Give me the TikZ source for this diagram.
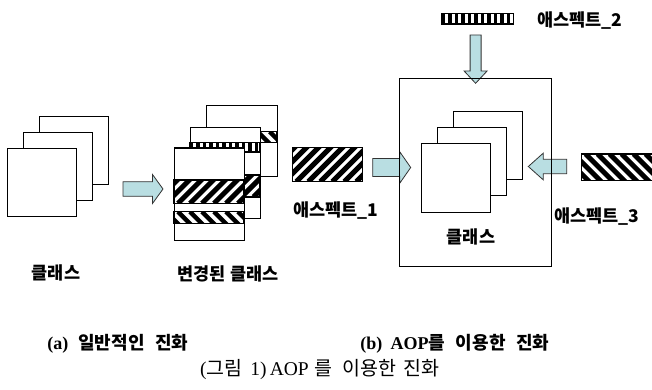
\documentclass[tikz,border=0pt]{standalone}
\usepackage{fontspec}
\setmainfont{Liberation Serif}
\newfontfamily\kr{Noto Sans CJK KR}
\usetikzlibrary{calc}

\definecolor{arrowfill}{RGB}{185,222,226}

\tikzset{
  sheet/.style={draw=black, line width=1.1pt, fill=white},
  frame/.style={draw=black, line width=1.1pt},
  band/.style={draw=black, line width=1.1pt},
  lbl/.style={font=\kr\bfseries\fontsize{17.5}{17.5}\selectfont, inner sep=0pt},
  caption/.style={font=\fontsize{18}{18}\selectfont\bfseries, inner sep=0pt},
  bigcaption/.style={font=\fontsize{19.5}{19.5}\selectfont, inner sep=0pt},
  blockarrow/.style={draw=black!80, line width=0.8pt, fill=arrowfill, line join=miter},
}

% diagonal stripes rising to the right, inside the box (x1,y1)-(x2,y2)
\newcommand\hatchrise[5]{%
  \begin{scope}
    \clip (#1,#2) rectangle (#3,#4);
    \fill[white] (#1,#2) rectangle (#3,#4);
    \foreach \k in {-80,-68,...,200}
      \draw[line width=#5] ({#1+\k},#4) -- ({#1+\k+60},{#4-60});
  \end{scope}
  \draw[band] (#1,#2) rectangle (#3,#4);}
% diagonal stripes falling to the right
\newcommand\hatchfall[5]{%
  \begin{scope}
    \clip (#1,#2) rectangle (#3,#4);
    \fill[white] (#1,#2) rectangle (#3,#4);
    \foreach \k in {-80,-68,...,200}
      \draw[line width=#5] ({#1+\k},#2) -- ({#1+\k+60},{#2+60});
  \end{scope}
  \draw[band] (#1,#2) rectangle (#3,#4);}
% vertical bars
\newcommand\hatchbars[4]{%
  \begin{scope}
    \clip (#1,#2) rectangle (#3,#4);
    \fill[white] (#1,#2) rectangle (#3,#4);
    \foreach \k in {0,6.5,...,200}
      \fill ({#1+\k},#2) rectangle ({#1+\k+3.6},#4);
  \end{scope}
  \draw[band] (#1,#2) rectangle (#3,#4);}
% block arrow: start, angle, length, shaft half width, head half width, head length
\newcommand\blockarr[6]{%
  \begin{scope}[shift={#1}, rotate=#2]
    \draw[blockarrow] (0,-#4) -- ({#3-#6},-#4) -- ({#3-#6},-#5) -- (#3,0)
      -- ({#3-#6},#5) -- ({#3-#6},#4) -- (0,#4) -- cycle;
  \end{scope}}

\begin{document}
\begin{tikzpicture}[x=1pt,y=-1pt]
\clip (0,0) rectangle (652,390);
\useasboundingbox (0,0) rectangle (652,390);

% ---------- (a) plain classes ----------
\node[sheet, minimum width=68.5pt, minimum height=68pt, anchor=north west] (c3) at (39.3,116) {};
\node[sheet, minimum width=68.5pt, minimum height=68pt, anchor=north west] (c2) at (23.3,132.3) {};
\node[sheet, minimum width=68.5pt, minimum height=68pt, anchor=north west] (c1) at (7.3,148.3) {};
\node[lbl] (lclass) at (56,273) {클래스};

% evolution arrow
\coordinate (ea) at (123,189);
\blockarr{(ea)}{0}{40}{7.3}{14.5}{10.5}

% ---------- (a) changed classes ----------
% back sheet
\node[sheet, minimum width=71pt, minimum height=71pt, anchor=north west] (m3) at (205.7,105) {};
\hatchfall{205.7}{131.7}{276.7}{142.5}{4.5}
% middle sheet
\node[sheet, minimum width=70.5pt, minimum height=91pt, anchor=north west] (m2) at (189.5,126.7) {};
\hatchbars{189.5}{142.5}{260}{152}
\hatchrise{189.5}{175}{260}{197}{5}
% front sheet
\node[sheet, minimum width=69.5pt, minimum height=92.5pt, anchor=north west] (m1) at (174,147.5) {};
\hatchrise{174}{180}{243.5}{203.3}{5}
\hatchfall{174}{211.7}{243.5}{223.3}{4.5}
\node[lbl] (lchanged) at (228,274) {변경된 클래스};

% ---------- (b) aspects woven into a class ----------
% aspect 1
\hatchrise{292.3}{147.7}{362.7}{181.7}{5}
\node[inner sep=0pt, minimum width=70.4pt, minimum height=34pt, anchor=north west] (asp1) at (292.3,147.7) {};
\node[lbl] (lasp1) at (336,211) {애스펙트\_1};
% aspect 2
\hatchbars{441.7}{13.3}{513.3}{24}
\node[inner sep=0pt, minimum width=71.6pt, minimum height=10.7pt, anchor=north west] (asp2) at (441.7,13.3) {};
\node[lbl] (lasp2) at (580,21) {애스펙트\_2};
% aspect 3
\hatchfall{581.7}{154}{670}{180.7}{5}
\node[inner sep=0pt, minimum width=88pt, minimum height=26.7pt, anchor=north west] (asp3) at (581.7,154) {};
\node[lbl] (lasp3) at (597,216.5) {애스펙트\_3};

% inner classes
\node[sheet, minimum width=69pt, minimum height=68.5pt, anchor=north west] (k3) at (452.7,110.7) {};
\node[sheet, minimum width=69pt, minimum height=68.5pt, anchor=north west] (k2) at (437.3,126.7) {};
\node[sheet, minimum width=69pt, minimum height=69pt, anchor=north west] (k1) at (421,142.7) {};
\node[lbl] (lclassb) at (471,237) {클래스};

% weaving arrows
\coordinate (w1) at (372.7,167.5);
\coordinate (w2) at (475.6,35);
\coordinate (w3) at (566.7,166.5);
\blockarr{(w1)}{0}{38}{9}{15.8}{11}
\blockarr{(w2)}{-90}{48.3}{5.5}{11.5}{12.3}
\blockarr{(w3)}{180}{38.4}{7.2}{13.4}{15}

% enclosing frame
\node[frame, minimum width=151.4pt, minimum height=187.4pt, anchor=north west] (box) at (399.3,78.3) {};

% ---------- captions ----------
\node[caption] (capa) at (118,344) {(a)\hspace{0.55em}{\kr 일반적인}\hspace{0.6em}{\kr 진화}};
\node[caption] (capb) at (455,344) {(b)\hspace{0.45em}AOP{\kr 를}\hspace{0.6em}{\kr 이용한}\hspace{0.6em}{\kr 진화}};
\node[bigcaption] (capfig) at (320,370) {({\kr 그림}\hspace{0.4em}1)\,AOP\hspace{0.3em}{\kr 를}\hspace{0.5em}{\kr 이용한}\hspace{0.4em}{\kr 진화}};
\end{tikzpicture}
\end{document}
